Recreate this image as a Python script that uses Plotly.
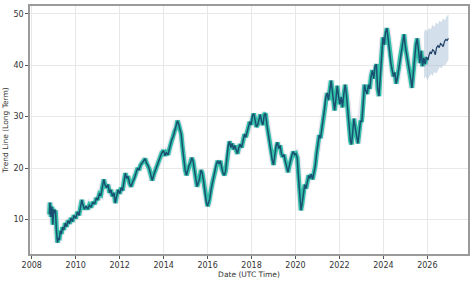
import plotly.graph_objects as go

# ---- historical trend (decimal year, value) ----
hist_dates = [
    2008.80, 2008.83, 2008.87, 2008.92, 2008.96, 2009.00, 2009.04, 2009.08, 2009.12, 2009.17,
    2009.21, 2009.25, 2009.30, 2009.35, 2009.40, 2009.46, 2009.52, 2009.58, 2009.65, 2009.72,
    2009.78, 2009.85, 2009.92, 2010.00, 2010.08, 2010.15, 2010.22, 2010.28, 2010.33, 2010.40,
    2010.47, 2010.55, 2010.62, 2010.70, 2010.78, 2010.86, 2010.94, 2011.00, 2011.08, 2011.15,
    2011.22, 2011.28, 2011.33, 2011.40, 2011.47, 2011.54, 2011.60, 2011.67, 2011.74, 2011.80,
    2011.86, 2011.93, 2012.00, 2012.07, 2012.13, 2012.20, 2012.26, 2012.32, 2012.38, 2012.45,
    2012.52, 2012.60, 2012.67, 2012.74, 2012.82, 2012.88, 2012.95, 2013.02, 2013.10, 2013.16,
    2013.22, 2013.28, 2013.35, 2013.42, 2013.48, 2013.56, 2013.62, 2013.70, 2013.78, 2013.85,
    2013.92, 2014.00, 2014.06, 2014.12, 2014.20, 2014.28, 2014.36, 2014.44, 2014.50, 2014.57,
    2014.63, 2014.68, 2014.74, 2014.80, 2014.86, 2014.92, 2014.98, 2015.04, 2015.10, 2015.16,
    2015.22, 2015.28, 2015.34, 2015.40, 2015.46, 2015.52, 2015.58, 2015.64, 2015.70, 2015.76,
    2015.82, 2015.88, 2015.94, 2016.00, 2016.05, 2016.10, 2016.16, 2016.22, 2016.28, 2016.34,
    2016.40, 2016.46, 2016.52, 2016.58, 2016.64, 2016.70, 2016.76, 2016.82, 2016.88, 2016.94,
    2017.00, 2017.06, 2017.12, 2017.18, 2017.24, 2017.30, 2017.36, 2017.42, 2017.48, 2017.55,
    2017.62, 2017.68, 2017.74, 2017.80, 2017.86, 2017.92, 2017.98, 2018.04, 2018.10, 2018.16,
    2018.22, 2018.28, 2018.34, 2018.40, 2018.46, 2018.52, 2018.58, 2018.64, 2018.70, 2018.76,
    2018.82, 2018.88, 2018.94, 2019.00, 2019.06, 2019.12, 2019.18, 2019.24, 2019.30, 2019.36,
    2019.42, 2019.48, 2019.54, 2019.60, 2019.66, 2019.72, 2019.78, 2019.84, 2019.90, 2019.96,
    2020.02, 2020.08, 2020.14, 2020.20, 2020.25, 2020.30, 2020.36, 2020.42, 2020.48, 2020.54,
    2020.60, 2020.66, 2020.72, 2020.78, 2020.84, 2020.90, 2020.96, 2021.02, 2021.08, 2021.14,
    2021.20, 2021.26, 2021.32, 2021.38, 2021.44, 2021.50, 2021.56, 2021.62, 2021.67, 2021.72,
    2021.78, 2021.84, 2021.90, 2021.96, 2022.02, 2022.08, 2022.14, 2022.20, 2022.26, 2022.32,
    2022.38, 2022.44, 2022.50, 2022.55, 2022.60, 2022.66, 2022.72, 2022.78, 2022.84, 2022.90,
    2022.96, 2023.02, 2023.08, 2023.14, 2023.20, 2023.26, 2023.32, 2023.38, 2023.44, 2023.50,
    2023.56, 2023.62, 2023.68, 2023.74, 2023.80, 2023.86, 2023.92, 2023.98, 2024.04, 2024.10,
    2024.16, 2024.22, 2024.28, 2024.34, 2024.40, 2024.46, 2024.52, 2024.58, 2024.64, 2024.70,
    2024.76, 2024.82, 2024.88, 2024.94, 2025.00, 2025.06, 2025.12, 2025.18, 2025.24, 2025.30,
    2025.36, 2025.42, 2025.48, 2025.54, 2025.60, 2025.66, 2025.72, 2025.78, 2025.84, 2025.90,
    2025.96,
]
hist_values = [
    11.0, 13.3, 10.5, 12.5, 9.0, 12.0, 11.2, 11.8, 8.0, 5.5,
    6.5, 6.0, 7.8, 7.2, 8.5, 8.0, 9.3, 8.6, 9.8, 9.2,
    10.3, 9.6, 10.8, 10.2, 11.5, 10.8, 12.5, 13.8, 12.8, 12.0,
    12.6, 12.0, 12.8, 12.4, 13.4, 13.0, 14.2, 13.8, 15.0, 14.8,
    16.5, 17.8, 16.8, 16.2, 16.8, 15.2, 15.8, 14.5, 15.2, 13.2,
    14.5, 15.8, 15.0, 16.2, 15.6, 17.5, 19.0, 18.0, 18.4, 17.0,
    16.4, 17.4, 18.0, 19.0, 20.0, 19.6, 20.6, 21.0, 21.4, 21.8,
    21.0, 20.6, 19.8, 18.6, 17.6, 18.8, 19.6, 20.6, 21.4, 22.2,
    23.0, 23.4, 22.4, 23.0, 22.6, 24.0, 25.4, 26.2, 27.2, 27.8,
    29.2, 28.6, 27.6, 26.6, 24.0, 21.0, 19.6, 18.6, 19.6, 20.6,
    21.0, 22.0, 21.4, 19.6, 18.0, 16.4, 17.2, 18.0, 19.6, 19.0,
    17.4, 15.4, 13.4, 12.6, 13.2, 14.0, 15.8, 17.2, 18.4, 19.6,
    20.8, 21.4, 20.8, 21.4, 20.0, 19.0, 18.6, 19.4, 22.0, 24.4,
    25.2, 24.0, 24.8, 23.6, 24.4, 23.4, 22.8, 24.0, 24.6, 24.0,
    25.6, 26.6, 26.0, 27.4, 28.0, 29.0, 28.4, 30.2, 30.6, 29.4,
    28.0, 28.4, 29.8, 30.4, 29.0, 28.4, 30.4, 30.6, 28.4, 26.6,
    25.2, 23.4, 21.6, 20.6, 22.6, 24.4, 25.0, 23.8, 24.4, 22.8,
    22.2, 22.6, 21.2, 19.8, 19.2, 20.4, 21.6, 22.6, 23.2, 22.6,
    22.8, 22.0, 18.0, 14.0, 11.8, 13.0, 15.6, 16.8, 16.0, 17.6,
    18.6, 18.0, 18.8, 17.8, 19.0, 20.4, 22.8, 24.4, 26.4, 25.8,
    27.6, 29.0, 31.4, 33.8, 34.6, 33.2, 35.4, 37.0, 35.2, 33.6,
    31.2, 33.4, 36.0, 34.0, 32.4, 33.8, 31.8, 34.4, 36.2, 34.2,
    30.6, 27.6, 25.2, 24.6, 27.8, 29.6, 27.8, 25.8, 24.8, 27.0,
    29.2, 29.0, 32.4, 36.2, 35.0, 34.4, 36.2, 35.4, 37.8, 39.0,
    37.4, 39.8, 40.2, 35.4, 34.0, 38.6, 43.2, 45.4, 44.0, 46.4,
    47.2, 45.4, 42.8, 40.4, 39.2, 37.8, 38.6, 36.4, 37.6, 39.4,
    41.4, 42.8, 45.0, 46.0, 43.6, 42.2, 40.6, 39.0, 37.4, 35.6,
    38.4, 41.6, 44.0, 45.2, 43.2, 40.4, 42.8, 39.8, 41.4, 40.2,
    41.6,
]

# ---- forecast ----
fc_dates = [2025.96, 2026.03, 2026.08, 2026.13, 2026.18, 2026.24, 2026.30, 2026.36, 2026.42,
            2026.48, 2026.54, 2026.60, 2026.66, 2026.72, 2026.78, 2026.84, 2026.90, 2026.96]
fc_values = [41.6, 41.0, 42.0, 42.6, 42.2, 43.0, 42.8, 42.0, 43.4,
             43.8, 43.4, 44.2, 44.0, 43.6, 44.6, 45.0, 44.8, 45.2]
fc_band_dates = [2025.85, 2025.92, 2026.00, 2026.08, 2026.16, 2026.24, 2026.32, 2026.40, 2026.48,
                 2026.56, 2026.64, 2026.72, 2026.80, 2026.88, 2026.96]
fc_upper = [46.2, 47.0, 46.4, 47.2, 46.8, 47.8, 47.2, 48.2, 47.8, 48.6, 48.2, 49.0, 48.6, 49.4, 49.8]
fc_lower = [37.4, 38.0, 37.2, 37.8, 38.4, 38.0, 38.8, 38.4, 39.2, 39.8, 39.4, 40.2, 40.0, 40.6, 41.2]

x_ticks = [2008, 2010, 2012, 2014, 2016, 2018, 2020, 2022, 2024, 2026]
y_ticks = [10, 20, 30, 40, 50]

fig = go.Figure()

# forecast uncertainty band
fig.add_trace(go.Scatter(x=fc_band_dates, y=fc_upper, mode="lines",
                         line=dict(color="rgba(150,175,200,0.35)", width=0.5),
                         hoverinfo="skip", showlegend=False))
fig.add_trace(go.Scatter(x=fc_band_dates, y=fc_lower, mode="lines", fill="tonexty",
                         fillcolor="rgba(150,178,205,0.42)",
                         line=dict(color="rgba(150,175,200,0.35)", width=0.5),
                         hoverinfo="skip", showlegend=False))

# faint outer fringe + teal band of the history
fig.add_trace(go.Scatter(x=hist_dates, y=hist_values, mode="lines",
                         line=dict(color="rgba(185,175,210,0.28)", width=7),
                         hoverinfo="skip", showlegend=False))
fig.add_trace(go.Scatter(x=hist_dates, y=hist_values, mode="lines",
                         line=dict(color="#33c2a8", width=4.5),
                         hoverinfo="skip", showlegend=False))
fig.add_trace(go.Scatter(x=hist_dates, y=hist_values, mode="lines",
                         line=dict(color="#1b4f72", width=1.5),
                         showlegend=False))
# forecast line
fig.add_trace(go.Scatter(x=fc_dates, y=fc_values, mode="lines",
                         line=dict(color="#1f3f66", width=1.2),
                         showlegend=False))

axis_common = dict(
    showgrid=True, gridcolor="#e8e8e8", gridwidth=1,
    showline=True, linecolor="#9a9a9a", linewidth=1.6, mirror=True,
    ticks="outside", ticklen=3, tickcolor="#555", tickwidth=1,
    tickfont=dict(family="DejaVu Sans", size=8, color="#333"),
    zeroline=False,
)

fig.update_layout(
    width=474, height=282,
    margin=dict(l=27, r=4, t=5, b=26),
    paper_bgcolor="white", plot_bgcolor="white",
    showlegend=False,
    xaxis=dict(range=[2007.92, 2027.85], tickvals=x_ticks,
               ticktext=[str(v) for v in x_ticks],
               title=dict(text="Date (UTC Time)", standoff=2,
                          font=dict(family="DejaVu Sans", size=7.5, color="#333")),
               **axis_common),
    yaxis=dict(range=[3.3, 51.5], tickvals=y_ticks,
               ticktext=[str(v) for v in y_ticks],
               title=dict(text="Trend Line (Long Term)", standoff=4,
                          font=dict(family="DejaVu Sans", size=7.5, color="#333")),
               **axis_common),
)

fig.write_html("out.html")
